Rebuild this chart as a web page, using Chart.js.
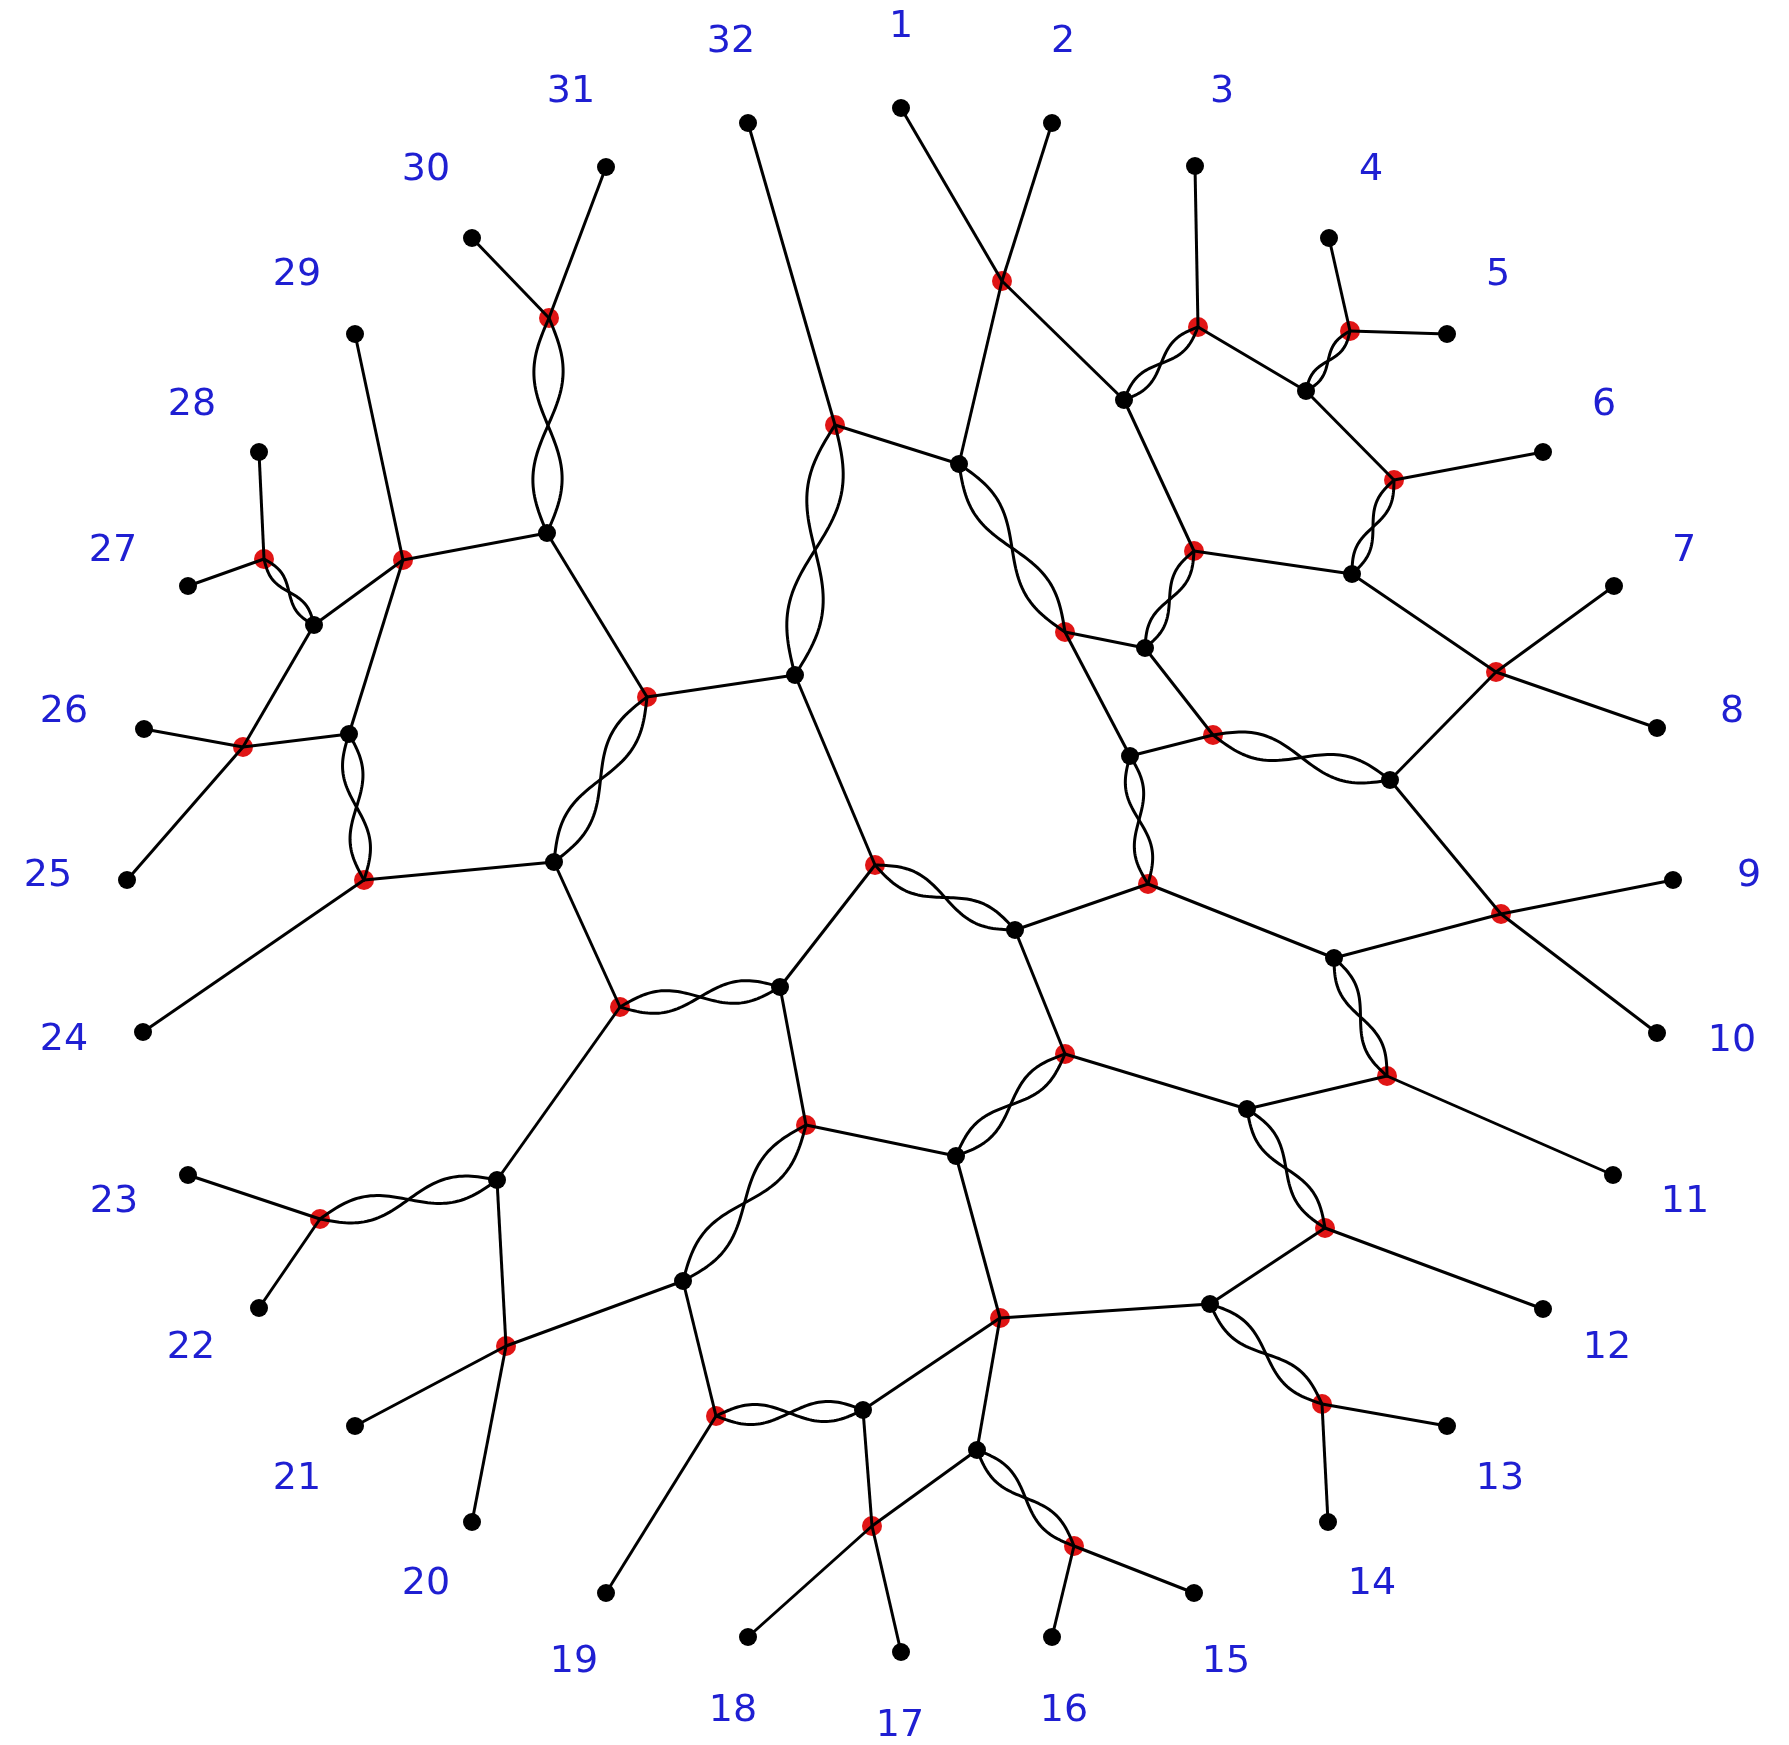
<!DOCTYPE html>
<html>
<head>
<meta charset="utf-8">
<title>Graph with 32 numbered leaves</title>
<script src="https://cdn.jsdelivr.net/npm/chart.js@4.4.1/dist/chart.umd.min.js"></script>
<style>
  html, body { margin: 0; padding: 0; background: #ffffff; overflow: hidden; }
  #wrap { position: relative; width: 1789px; height: 1745px; }
</style>
</head>
<body>
<div id="wrap"><canvas id="graph"></canvas></div>
<script>
// Layout coordinates (x to the right, y downwards) of the 32 numbered leaves, clockwise from the top.
const leafNames = ['1','2','3','4','5','6','7','8','9','10','11','12','13','14','15','16',
                   '17','18','19','20','21','22','23','24','25','26','27','28','29','30','31','32'];
const leafX = [901,1052,1195,1329,1447,1543,1614,1657,1673,1657,1613,1543,1447,1328,1194,1052,
               901,748,606,472,355,259,188,143,127,144,188,259,355,472,606,748];
const leafY = [108,123,166,238,334,452,586,728,880,1033,1175,1309,1426,1522,1593,1637,
               1652,1637,1593,1522,1426,1308,1175,1032,880,729,586,452,334,238,167,123];

// Where each leaf number is written.
const labelX = [901,1063,1222,1371,1498,1604,1684,1732,1749,1732,1685,1607,1500,1372,1226,1064,
                900,733,574,426,297,191,114,64,48,64,113,192,297,426,571,731];
const labelY = [27,42,92,170,275,405,551,712,876,1041,1202,1348,1479,1584,1662,1711,
                1726,1711,1662,1584,1479,1348,1202,1040,876,712,551,405,275,170,92,42];

// Inner black vertices.
const blackNames = ['b1','b2','b3','b4','b5','b6','b7','b8','b9','b10','b11',
                    'b12','b13','b14','b15','b16','b17','b18','b19','b20','b21','b22'];
const blackX = [547,314,349,554,795,959,1124,1306,1352,1145,1130,
                1390,1015,1334,1247,956,780,497,683,863,977,1210];
const blackY = [533,625,734,862,675,464,400,391,574,648,756,
                780,930,958,1109,1156,987,1180,1281,1410,1450,1304];

// Red vertices.
const redNames = ['r1','r2','r3','r4','r5','r6','r7','r8','r9','r10','r11','r12','r13','r14','r15',
                  'r16','r17','r18','r19','r20','r21','r22','r23','r24','r25','r26','r27','r28','r29','r30'];
const redX = [549,403,264,243,364,647,835,1002,1198,1350,1394,1194,1496,1065,1213,
              1148,875,1501,1387,1065,806,620,320,506,1000,716,872,1074,1325,1322];
const redY = [318,560,559,747,880,697,425,281,327,331,480,551,672,632,735,
              884,865,914,1076,1054,1125,1007,1219,1346,1318,1416,1526,1546,1228,1404];

// Simple edges.
const singleEdges = [
  ['31','r1'], ['30','r1'],
  ['b1','r2'], ['r2','b2'], ['29','r2'], ['r2','b3'],
  ['28','r3'], ['27','r3'],
  ['b2','r4'], ['r4','25'], ['26','r4'], ['r4','b3'],
  ['r5','24'], ['r5','b4'],
  ['b1','r6'], ['r6','b5'],
  ['r7','32'], ['r7','b6'],
  ['b5','r17'], ['b4','r22'], ['b17','r17'], ['r22','b18'],
  ['r23','23'], ['r23','22'],
  ['b18','r24'], ['r24','21'], ['r24','20'], ['r24','b19'],
  ['b19','r26'], ['r26','19'],
  ['b20','r25'], ['b20','r27'], ['r27','17'], ['r27','18'], ['r27','b21'],
  ['b21','r25'],
  ['r28','16'], ['r28','15'],
  ['r25','b22'], ['r25','b16'],
  ['r21','b16'], ['r21','b17'],
  ['b13','r20'], ['b13','r16'], ['r20','b15'],
  ['r29','b22'], ['r30','13'], ['r30','14'], ['r29','12'],
  ['b15','r19'], ['r19','11'],
  ['b14','r18'], ['r18','9'], ['r18','10'], ['r18','b12'],
  ['r15','b11'], ['r15','b10'],
  ['b12','r13'], ['r13','7'], ['r13','8'], ['r13','b9'],
  ['r11','6'], ['r11','b8'],
  ['r10','4'], ['r10','5'],
  ['b8','r9'], ['r9','3'],
  ['b7','r8'], ['r8','1'], ['r8','2'], ['r8','b6'],
  ['b7','r12'], ['r12','b9'],
  ['b10','r14'], ['r14','b11'],
  ['r16','b14']
];

// Doubled edges, drawn as two strands twisted once around each other.
const doubleEdges = [
  ['r1','b1'], ['r3','b2'], ['b3','r5'], ['b4','r6'], ['b5','r7'], ['r22','b17'],
  ['b18','r23'], ['b19','r21'], ['r26','b20'], ['b21','r28'], ['b16','r20'], ['r17','b13'],
  ['b15','r29'], ['b22','r30'], ['r19','b14'], ['b12','r15'], ['b9','r11'], ['b8','r10'],
  ['r9','b7'], ['r12','b10'], ['r14','b6'], ['b11','r16']
];

// ---- lookup table of vertex positions ----
const vertex = {};
leafNames.forEach((n, i) => { vertex[n] = { x: leafX[i], y: leafY[i] }; });
blackNames.forEach((n, i) => { vertex[n] = { x: blackX[i], y: blackY[i] }; });
redNames.forEach((n, i) => { vertex[n] = { x: redX[i], y: redY[i] }; });

const EDGE_COLOR = '#000000';
const EDGE_WIDTH = 3;
const LABEL_COLOR = '#1f1fd2';
const TWIST_AMPLITUDE = 0.068;

const edgeDatasets = singleEdges.map(([a, b]) => ({
  label: a + '-' + b,
  data: [vertex[a], vertex[b]],
  showLine: true,
  borderColor: EDGE_COLOR,
  borderWidth: EDGE_WIDTH,
  pointRadius: 0,
  pointHoverRadius: 0,
  fill: false,
  order: 2
}));

const blackData = leafNames.map(n => vertex[n]).concat(blackNames.map(n => vertex[n]));
const redData = redNames.map(n => vertex[n]);

// Twisted pairs are stroked right after the red vertices, so they lie on top of them
// but beneath the black vertices.
const twistedPairs = {
  id: 'twistedPairs',
  afterDatasetDraw(chart, args) {
    if (chart.data.datasets[args.index].role !== 'red') return;
    const ctx = chart.ctx, sx = chart.scales.x, sy = chart.scales.y;
    ctx.save();
    ctx.strokeStyle = EDGE_COLOR;
    ctx.lineWidth = EDGE_WIDTH;
    ctx.lineJoin = 'round';
    ctx.lineCap = 'round';
    doubleEdges.forEach(([a, b]) => {
      const x0 = sx.getPixelForValue(vertex[a].x), y0 = sy.getPixelForValue(vertex[a].y);
      const x1 = sx.getPixelForValue(vertex[b].x), y1 = sy.getPixelForValue(vertex[b].y);
      const dx = x1 - x0, dy = y1 - y0, len = Math.hypot(dx, dy);
      const nx = -dy / len, ny = dx / len, amp = TWIST_AMPLITUDE * len;
      [1, -1].forEach(side => {
        ctx.beginPath();
        const steps = 60;
        for (let i = 0; i <= steps; i++) {
          const t = i / steps;
          const off = side * amp * Math.sin(2 * Math.PI * t);
          const px = x0 + dx * t + nx * off, py = y0 + dy * t + ny * off;
          if (i === 0) ctx.moveTo(px, py); else ctx.lineTo(px, py);
        }
        ctx.stroke();
      });
    });
    ctx.restore();
  }
};

// Leaf numbers.
const leafLabels = {
  id: 'leafLabels',
  afterDraw(chart) {
    const ctx = chart.ctx, sx = chart.scales.x, sy = chart.scales.y;
    ctx.save();
    ctx.font = '38px "DejaVu Sans", sans-serif';
    ctx.fillStyle = LABEL_COLOR;
    ctx.textAlign = 'center';
    ctx.textBaseline = 'middle';
    leafNames.forEach((n, i) => {
      ctx.fillText(n, sx.getPixelForValue(labelX[i]), sy.getPixelForValue(labelY[i]));
    });
    ctx.restore();
  }
};

new Chart(document.getElementById('graph'), {
  type: 'scatter',
  data: {
    datasets: [
      {
        role: 'red',
        label: 'red vertices',
        data: redData,
        pointRadius: 10,
        pointHoverRadius: 10,
        pointBackgroundColor: '#e01515',
        pointBorderWidth: 0,
        order: 3
      },
      ...edgeDatasets,
      {
        role: 'black',
        label: 'black vertices',
        data: blackData,
        pointRadius: 9,
        pointHoverRadius: 9,
        pointBackgroundColor: '#000000',
        pointBorderWidth: 0,
        order: 1
      }
    ]
  },
  options: {
    responsive: true,
    maintainAspectRatio: false,
    devicePixelRatio: 1,
    animation: false,
    events: [],
    layout: { padding: 0, autoPadding: false },
    plugins: { legend: { display: false }, tooltip: { enabled: false } },
    scales: {
      x: { type: 'linear', min: 0, max: 1789, display: false },
      y: { type: 'linear', min: 0, max: 1745, reverse: true, display: false }
    }
  },
  plugins: [twistedPairs, leafLabels]
});
</script>
</body>
</html>
